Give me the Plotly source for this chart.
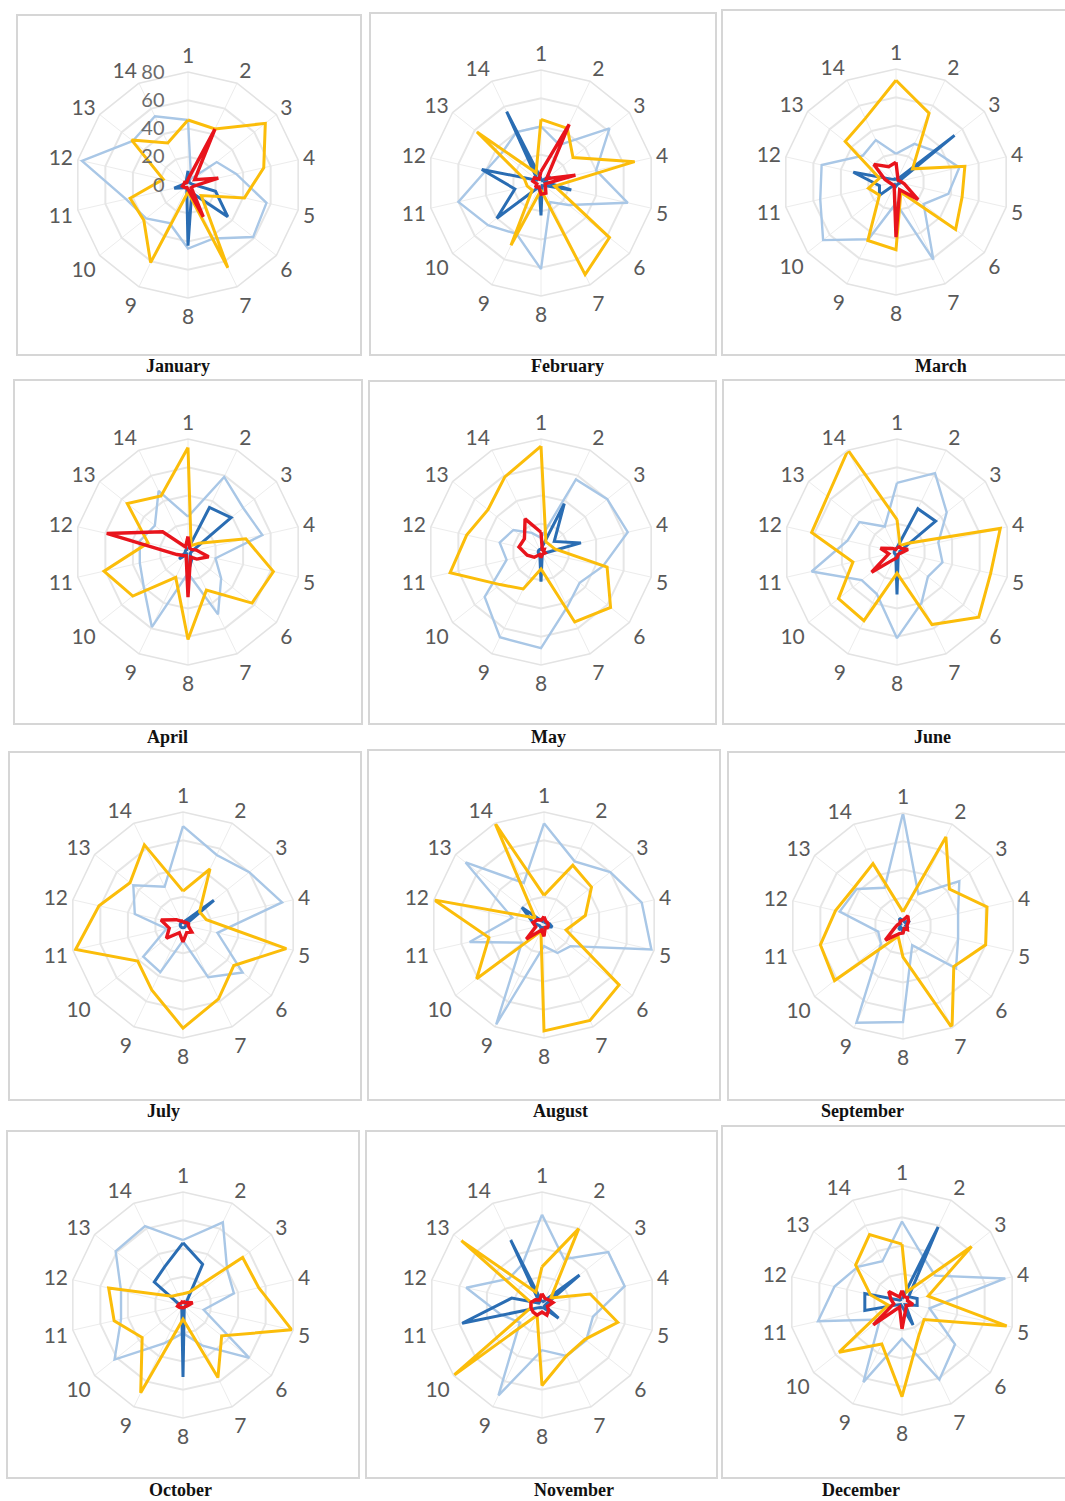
import plotly.graph_objects as go

# ---------------- data ----------------
categories = [str(i) for i in range(1, 15)]
months = ["January", "February", "March", "April", "May", "June",
          "July", "August", "September", "October", "November", "December"]
radial_ticks = [0, 20, 40, 60, 80]

light_blue = [
    [46, 5, 26, 35, 57, 59, 42, 45, 30, 38, 45, 77, 50, 54],   # Jan
    [40, 30, 62, 40, 63, 25, 15, 61, 40, 48, 60, 40, 35, 40],  # Feb
    [20, 30, 35, 46, 38, 25, 61, 15, 45, 66, 55, 54, 30, 33],  # Mar
    [25, 59, 50, 54, 20, 30, 49, 15, 59, 40, 35, 35, 30, 48],  # Apr
    [10, 57, 60, 63, 45, 35, 43, 68, 67, 51, 25, 30, 25, 15],  # May
    [49, 62, 45, 30, 33, 28, 40, 61, 33, 32, 62, 36, 34, 20],  # Jun
    [70, 55, 60, 72, 25, 54, 41, 11, 37, 36, 12, 35, 45, 30],  # Jul
    [72, 50, 60, 71, 78, 24, 22, 15, 78, 20, 54, 23, 71, 33],  # Aug
    [80, 25, 51, 40, 40, 48, 15, 68, 76, 20, 18, 46, 42, 30],  # Sep
    [46, 65, 40, 37, 15, 60, 32, 20, 30, 62, 45, 45, 61, 62],  # Oct
    [64, 36, 60, 60, 37, 40, 40, 32, 71, 20, 30, 55, 30, 32],  # Nov
    [57, 35, 30, 75, 20, 48, 61, 26, 63, 20, 61, 49, 40, 32],  # Dec
]
dark_blue = [
    [10, 2, 2, 3, 20, 36, 6, 43, 2, 3, 10, 3, 2, 3],
    [3, 2, 8, 3, 22, 3, 2, 23, 3, 40, 19, 43, 3, 56],
    [3, 2, 53, 2, 3, 2, 2, 3, 2, 15, 12, 31, 3, 2],
    [2, 35, 39, 3, 2, 2, 6, 15, 2, 8, 2, 2, 2, 2],
    [2, 38, 12, 29, 3, 2, 2, 21, 2, 2, 2, 2, 2, 2],
    [3, 34, 35, 2, 2, 2, 2, 30, 2, 2, 2, 2, 2, 2],
    [2, 3, 28, 2, 2, 2, 2, 2, 2, 2, 2, 2, 2, 2],
    [2, 2, 2, 4, 6, 2, 2, 2, 2, 3, 3, 8, 20, 3],
    [4, 3, 6, 2, 3, 2, 2, 5, 2, 4, 2, 3, 2, 6],
    [44, 32, 3, 2, 2, 2, 2, 51, 2, 2, 2, 3, 26, 30],
    [2, 3, 34, 3, 2, 15, 2, 2, 2, 3, 58, 22, 2, 51],
    [2, 59, 6, 11, 11, 3, 18, 3, 2, 3, 27, 27, 2, 2],
]
yellow = [
    [46, 44, 70, 55, 41, 12, 65, 5, 61, 40, 42, 18, 51, 33],
    [45, 43, 29, 68, 10, 62, 72, 5, 49, 8, 10, 12, 58, 8],
    [72, 54, 15, 50, 48, 54, 8, 48, 46, 15, 20, 12, 46, 50],
    [74, 5, 10, 42, 62, 58, 30, 62, 20, 50, 61, 29, 55, 44],
    [75, 8, 8, 10, 48, 63, 55, 12, 29, 37, 66, 54, 48, 59],
    [23, 5, 10, 75, 68, 74, 57, 15, 54, 53, 32, 62, 63, 80],
    [24, 44, 15, 17, 75, 46, 58, 73, 51, 41, 78, 61, 48, 63],
    [21, 47, 43, 30, 16, 68, 75, 75, 5, 61, 40, 80, 8, 80],
    [10, 70, 42, 61, 60, 46, 80, 22, 8, 62, 60, 49, 44, 49],
    [8, 10, 54, 55, 79, 35, 57, 10, 69, 37, 50, 54, 10, 8],
    [27, 60, 8, 35, 55, 39, 40, 57, 8, 80, 8, 8, 73, 10],
    [41, 8, 63, 19, 76, 20, 27, 67, 33, 57, 10, 23, 42, 53],
]
red = [
    [4, 44, 6, 22, 4, 3, 25, 3, 2, 3, 4, 3, 3, 2],
    [8, 46, 5, 25, 3, 4, 8, 8, 3, 5, 3, 6, 6, 3],
    [14, 3, 2, 3, 6, 20, 6, 39, 3, 3, 4, 8, 20, 12],
    [11, 3, 3, 6, 15, 8, 4, 32, 3, 4, 8, 59, 23, 4],
    [14, 2, 3, 2, 3, 2, 2, 4, 2, 6, 10, 16, 15, 26],
    [3, 4, 4, 8, 3, 2, 2, 4, 6, 23, 6, 12, 4, 2],
    [3, 2, 3, 4, 4, 8, 6, 12, 6, 15, 10, 16, 6, 3],
    [6, 3, 3, 3, 3, 3, 2, 8, 4, 16, 6, 8, 6, 4],
    [4, 8, 5, 3, 3, 4, 2, 5, 6, 16, 6, 4, 3, 4],
    [3, 2, 3, 7, 3, 2, 2, 2, 2, 3, 4, 3, 2, 2],
    [8, 5, 6, 8, 4, 6, 8, 5, 8, 8, 8, 8, 6, 4],
    [8, 4, 5, 4, 8, 4, 6, 19, 4, 26, 6, 8, 12, 4],
]

# ---------------- layout (pixels) ----------------
W, H = 1065, 1501
R = 113
centers = [(188, 185), (541, 183), (896, 182),
           (188, 552), (541, 552), (897, 552),
           (183, 925), (544, 925), (903, 926),
           (183, 1305), (542, 1305), (902, 1302)]
boxes = [(17, 15, 361, 355), (370, 13, 716, 355), (722, 10, 1068, 355),
         (14, 380, 362, 724), (369, 381, 716, 724), (723, 380, 1068, 724),
         (9, 752, 361, 1100), (368, 750, 720, 1100), (728, 752, 1068, 1100),
         (7, 1131, 359, 1478), (366, 1131, 717, 1478), (722, 1126, 1068, 1478)]
title_pos = [(178, 366), (567, 366), (941, 366),
             (167, 737), (548, 737), (932, 737),
             (163, 1111), (560, 1111), (862, 1111),
             (180, 1490), (574, 1490), (861, 1490)]

series_styles = [
    ("light", light_blue, "#a9c7e6", 2.4),
    ("dark", dark_blue, "#2a6db3", 3.0),
    ("yellow", yellow, "#fbbd0a", 3.0),
    ("red", red, "#e8141c", 3.4),
]

fig = go.Figure()
layout_kw = {}
for i, month in enumerate(months):
    pname = "polar" if i == 0 else f"polar{i+1}"
    for name, data, color, width in series_styles:
        r = data[i] + [data[i][0]]
        th = categories + [categories[0]]
        fig.add_trace(go.Scatterpolar(
            r=r, theta=th, mode="lines", name=f"{month} {name}",
            line=dict(color=color, width=width), subplot=pname,
            showlegend=False, hoverinfo="skip"))
    cx, cy = centers[i]
    layout_kw[pname] = dict(
        domain=dict(x=[(cx - R) / W, (cx + R) / W],
                    y=[1 - (cy + R) / H, 1 - (cy - R) / H]),
        bgcolor="rgba(0,0,0,0)",
        gridshape="linear",
        radialaxis=dict(range=[0, 80], tickvals=radial_ticks,
                        showticklabels=(i == 0), angle=90, tickangle=90,
                        side="counterclockwise",
                        ticks="outside", ticklen=16, tickcolor="rgba(0,0,0,0)",
                        showline=False,
                        gridcolor="#e6e6e6", gridwidth=1.5,
                        tickfont=dict(family="Lato", size=20, color="#6b6b6b")),
        angularaxis=dict(rotation=90, direction="clockwise",
                         categoryorder="array", categoryarray=categories,
                         ticks="", showline=True, linecolor="#e3e3e3",
                         linewidth=1.5, gridcolor="#ececec", gridwidth=1.2,
                         tickfont=dict(family="Lato", size=21, color="#595959")),
    )

shapes = []
for (x0, y0, x1, y1) in boxes:
    shapes.append(dict(type="rect", xref="paper", yref="paper",
                       x0=x0 / W, x1=x1 / W, y0=1 - y1 / H, y1=1 - y0 / H,
                       line=dict(color="#d6d6d6", width=2), layer="below"))

annotations = []
for month, (tx, ty) in zip(months, title_pos):
    annotations.append(dict(text=f"<b>{month}</b>", x=tx / W, y=1 - ty / H,
                            xref="paper", yref="paper", showarrow=False,
                            xanchor="center", yanchor="middle",
                            font=dict(family="Liberation Serif", size=18, color="#111111")))

fig.update_layout(width=W, height=H, margin=dict(l=0, r=0, t=0, b=0),
                  paper_bgcolor="white", plot_bgcolor="white",
                  shapes=shapes, annotations=annotations, showlegend=False,
                  **layout_kw)

fig.write_html("out.html", config={"displayModeBar": False},
               post_script="document.body.style.margin='0';document.body.style.overflow='hidden';")
